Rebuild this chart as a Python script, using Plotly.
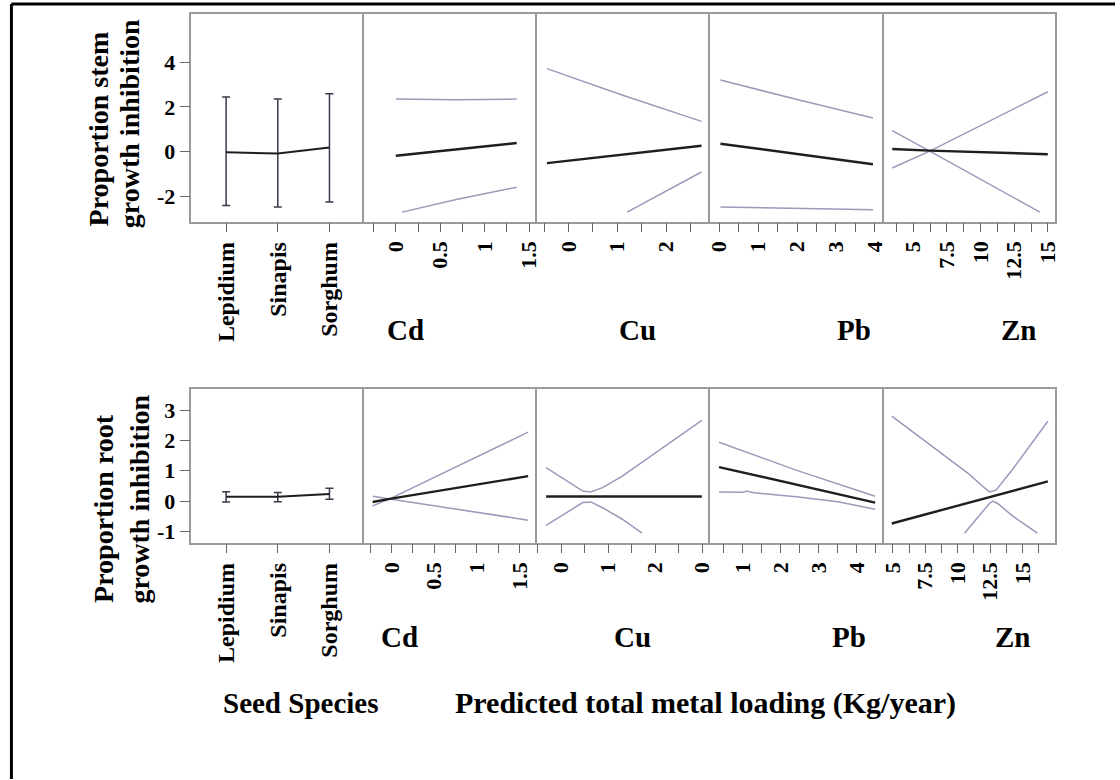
import plotly.graph_objects as go

W, H = 1120, 780

# ---------------- data ----------------
species = ["Lepidium", "Sinapis", "Sorghum"]
stem_mean = [-0.03, -0.09, 0.18]
stem_upper = [2.44, 2.36, 2.59]
stem_lower = [-2.42, -2.49, -2.26]
root_mean = [0.14, 0.14, 0.23]
root_upper = [0.31, 0.28, 0.42]
root_lower = [-0.03, -0.02, 0.06]

# stem growth inhibition profiles (prediction + confidence curves)
stem_cd_x = [0.0, 0.68, 1.36]
stem_cd_pred = [-0.19, 0.10, 0.38]
stem_cd_hi = [2.36, 2.32, 2.35]
stem_cd_lo_x = [0.07, 0.68, 1.36]
stem_cd_lo = [-2.72, -2.15, -1.60]

stem_cu_x = [-0.44, 1.14, 2.72]
stem_cu_pred = [-0.52, -0.13, 0.26]
stem_cu_hi = [3.72, 2.50, 1.35]
stem_cu_lo_x = [1.20, 2.72]
stem_cu_lo = [-2.72, -0.92]

stem_pb_x = [0.03, 2.0, 3.95]
stem_pb_pred = [0.35, -0.11, -0.57]
stem_pb_hi = [3.21, 2.33, 1.50]
stem_pb_lo = [-2.49, -2.55, -2.61]

stem_zn_x = [3.43, 6.22, 15.0]
stem_zn_pred = [0.11, 0.04, -0.12]
stem_zn_a = [-0.74, 0.02, 2.68]
stem_zn_b_x = [3.43, 6.22, 14.41]
stem_zn_b = [0.94, 0.02, -2.72]

# root growth inhibition profiles
root_cd_x = [-0.22, -0.02, 1.60]
root_cd_pred = [-0.03, 0.07, 0.82]
root_cd_a = [-0.16, 0.07, 2.27]
root_cd_b = [0.16, 0.07, -0.63]

root_cu_x = [-0.32, 2.99]
root_cu_pred = [0.15, 0.15]
root_cu_hi_x = [-0.32, 0.11, 0.46, 0.63, 0.88, 1.30, 2.99]
root_cu_hi = [1.10, 0.66, 0.33, 0.30, 0.44, 0.82, 2.66]
root_cu_lo_x = [-0.32, 0.11, 0.46, 0.63, 0.88, 1.30, 1.72]
root_cu_lo = [-0.80, -0.38, -0.05, -0.03, -0.22, -0.60, -1.06]

root_pb_x = [0.37, 2.4, 4.48]
root_pb_pred = [1.12, 0.54, -0.05]
root_pb_hi = [1.94, 1.02, 0.16]
root_pb_lo_x = [0.37, 1.0, 1.1, 1.25, 2.4, 3.5, 4.48]
root_pb_lo = [0.30, 0.29, 0.33, 0.28, 0.14, -0.02, -0.27]

root_zn_x = [4.92, 16.96]
root_zn_pred = [-0.74, 0.65]
root_zn_hi_x = [4.92, 8.37, 10.91, 12.06, 12.45, 12.96, 14.23, 16.96]
root_zn_hi = [2.80, 1.70, 0.88, 0.44, 0.30, 0.36, 1.04, 2.63]
root_zn_lo_x = [10.53, 11.68, 12.45, 12.71, 13.09, 14.23, 16.15]
root_zn_lo = [-1.06, -0.49, -0.08, 0.00, -0.08, -0.49, -1.06]

metals = ["Cd", "Cu", "Pb", "Zn"]

# axis ticks
cd_ticks = [0, 0.5, 1, 1.5]
cd_minor = [-0.25, 0.25, 0.75, 1.25]
cu_ticks_top = [0, 1, 2]
cu_ticks_bot = [0, 1, 2, 3]
cu_text_bot = ["0", "1", "2", "0"]
cu_minor = [-0.5, 0.5, 1.5, 2.5]
pb_ticks_top = [0, 1, 2, 3, 4]
pb_ticks_bot = [1, 2, 3, 4]
pb_minor = [0.5, 1.5, 2.5, 3.5, 4.5]
zn_ticks = [5, 7.5, 10, 12.5, 15]
zn_minor = [3.75, 6.25, 8.75, 11.25, 13.75, 16.25]
stem_yticks = [-2, 0, 2, 4]
root_yticks = [-1, 0, 1, 2, 3]

# ---------------- styling / layout ----------------
FONT = "Liberation Serif"
PRED = "#1e1e1e"
BAND = "#9a9abb"
FRAME = "#9a9a9a"

edges = [189, 363, 537, 712, 887, 1060]
rows_px = [(14, 222), (389.3, 543.3)]

def fx(p):
    return p / W

def fy(p):
    return 1 - p / H

fig = go.Figure()

def ax_name(k, kind):
    return kind if k == 1 else f"{kind}{k}"

def add_line(k, x, y, color, width):
    fig.add_trace(go.Scatter(
        x=x, y=y, mode="lines", line=dict(color=color, width=width),
        xaxis=ax_name(k, "x"), yaxis=ax_name(k, "y"),
        hoverinfo="skip", showlegend=False, cliponaxis=True))

def add_species(k, mean, upper, lower):
    cats = list(range(len(species)))
    fig.add_trace(go.Scatter(
        x=cats, y=mean, mode="lines",
        line=dict(color=PRED, width=2),
        error_y=dict(type="data", symmetric=False,
                     array=[u - m for u, m in zip(upper, mean)],
                     arrayminus=[m - l for m, l in zip(mean, lower)],
                     color="#3a3a4a", thickness=1.5, width=4),
        xaxis=ax_name(k, "x"), yaxis=ax_name(k, "y"),
        hoverinfo="skip", showlegend=False))

# top row: stem
add_species(1, stem_mean, stem_upper, stem_lower)
add_line(2, stem_cd_x, stem_cd_hi, BAND, 1.5)
add_line(2, stem_cd_lo_x, stem_cd_lo, BAND, 1.5)
add_line(2, stem_cd_x, stem_cd_pred, PRED, 2.4)
add_line(3, stem_cu_x, stem_cu_hi, BAND, 1.5)
add_line(3, stem_cu_lo_x, stem_cu_lo, BAND, 1.5)
add_line(3, stem_cu_x, stem_cu_pred, PRED, 2.4)
add_line(4, stem_pb_x, stem_pb_hi, BAND, 1.5)
add_line(4, stem_pb_x, stem_pb_lo, BAND, 1.5)
add_line(4, stem_pb_x, stem_pb_pred, PRED, 2.4)
add_line(5, stem_zn_x, stem_zn_a, BAND, 1.5)
add_line(5, stem_zn_b_x, stem_zn_b, BAND, 1.5)
add_line(5, stem_zn_x, stem_zn_pred, PRED, 2.4)

# bottom row: root
add_species(6, root_mean, root_upper, root_lower)
add_line(7, root_cd_x, root_cd_a, BAND, 1.5)
add_line(7, root_cd_x, root_cd_b, BAND, 1.5)
add_line(7, root_cd_x, root_cd_pred, PRED, 2.4)
add_line(8, root_cu_hi_x, root_cu_hi, BAND, 1.5)
add_line(8, root_cu_lo_x, root_cu_lo, BAND, 1.5)
add_line(8, root_cu_x, root_cu_pred, PRED, 2.4)
add_line(9, root_pb_x, root_pb_hi, BAND, 1.5)
add_line(9, root_pb_lo_x, root_pb_lo, BAND, 1.5)
add_line(9, root_pb_x, root_pb_pred, PRED, 2.4)
add_line(10, root_zn_hi_x, root_zn_hi, BAND, 1.5)
add_line(10, root_zn_lo_x, root_zn_lo, BAND, 1.5)
add_line(10, root_zn_x, root_zn_pred, PRED, 2.4)

tickfont = dict(family=FONT, size=22, color="black", weight="bold")
catfont = dict(family=FONT, size=24, color="black", weight="bold")

x_specs = [
    # top row
    dict(range=[-0.67, 2.67], tickvals=[0, 1, 2], ticktext=species, font=catfont, minor=None),
    dict(range=[-0.357, 1.585], tickvals=cd_ticks, ticktext=[f"{v:g}" for v in cd_ticks], minor=cd_minor),
    dict(range=[-0.65, 2.90], tickvals=cu_ticks_top, ticktext=[f"{v:g}" for v in cu_ticks_top], minor=cu_minor),
    dict(range=[-0.23, 4.23], tickvals=pb_ticks_top, ticktext=[f"{v:g}" for v in pb_ticks_top], minor=pb_minor),
    dict(range=[2.81, 15.57], tickvals=zn_ticks, ticktext=[f"{v:g}" for v in zn_ticks], minor=zn_minor),
    # bottom row
    dict(range=[-0.67, 2.67], tickvals=[0, 1, 2], ticktext=species, font=catfont, minor=None),
    dict(range=[-0.32, 1.70], tickvals=cd_ticks, ticktext=[f"{v:g}" for v in cd_ticks], minor=cd_minor),
    dict(range=[-0.52, 3.17], tickvals=cu_ticks_bot, ticktext=cu_text_bot, minor=cu_minor),
    dict(range=[0.14, 4.71], tickvals=pb_ticks_bot, ticktext=[f"{v:g}" for v in pb_ticks_bot], minor=pb_minor),
    dict(range=[4.31, 17.55], tickvals=zn_ticks, ticktext=[f"{v:g}" for v in zn_ticks], minor=zn_minor),
]

y_ranges = [[-3.15, 6.17], [-1.37, 3.70]]
y_ticks = [stem_yticks, root_yticks]

layout = dict(
    width=W, height=H, margin=dict(l=0, r=0, t=0, b=0),
    paper_bgcolor="white", plot_bgcolor="white", showlegend=False,
)

for k in range(1, 11):
    row = 0 if k <= 5 else 1
    col = (k - 1) % 5
    spec = x_specs[k - 1]
    xa = dict(
        domain=[fx(edges[col]), fx(edges[col + 1])],
        range=spec["range"], anchor=ax_name(k, "y"),
        tickmode="array", tickvals=spec["tickvals"], ticktext=spec["ticktext"],
        tickangle=-90, tickfont=spec.get("font", tickfont),
        ticks="outside", ticklen=9, tickwidth=1.3, tickcolor="#666",
        showline=True, mirror=True, linecolor=FRAME, linewidth=1.5,
        showgrid=False, zeroline=False, fixedrange=True,
    )
    if spec["minor"]:
        xa["minor"] = dict(tickmode="array", tickvals=spec["minor"], ticks="outside",
                           ticklen=9, tickwidth=1.3, tickcolor="#666", showgrid=False)
    layout[ax_name(k, "xaxis")] = xa

    top, bot = rows_px[row]
    # one vertical frame line per panel edge: left line for every panel,
    # right line only on the last panel of the row
    ya = dict(
        domain=[fy(bot), fy(top)], range=y_ranges[row], anchor=ax_name(k, "x"),
        showline=True, mirror=(col == 4), linecolor=FRAME, linewidth=1.5,
        showgrid=False, zeroline=False, fixedrange=True,
    )
    if col == 0:
        ya.update(tickmode="array", tickvals=y_ticks[row],
                  ticktext=[f"{v:g}" for v in y_ticks[row]],
                  ticks="outside", ticklen=10, tickwidth=1.3, tickcolor="#666",
                  tickfont=tickfont)
    else:
        ya.update(showticklabels=False, ticks="")
    layout[ax_name(k, "yaxis")] = ya

fig.update_layout(**layout)

# ---------------- text ----------------
def note(text, x, y, size, angle=0, xanchor="center", yanchor="middle"):
    fig.add_annotation(
        text=text, x=fx(x), y=fy(y), xref="paper", yref="paper",
        showarrow=False, textangle=angle, xanchor=xanchor, yanchor=yanchor,
        font=dict(family=FONT, size=size, color="black", weight="bold"))

note("Proportion stem", 95, 229, 28, angle=-90, yanchor="bottom")
note("growth inhibition", 126, 230, 28, angle=-90, yanchor="bottom")
note("Proportion root", 101, 606, 28, angle=-90, yanchor="bottom")
note("growth inhibition", 137, 606, 28, angle=-90, yanchor="bottom")

top_label_x = [405, 639, 857, 1023]
bot_label_x = [399, 634, 852, 1017]
for m, xt, xb in zip(metals, top_label_x, bot_label_x):
    note(m, xt, 330, 29)
    note(m, xb, 638, 29)

note("Seed Species", 299, 704, 29)
note("Predicted total metal loading (Kg/year)", 707, 704, 30)

# outer frame (top and left edges)
fig.add_shape(type="line", xref="paper", yref="paper",
              x0=fx(7.5), x1=1, y0=fy(4), y1=fy(4), line=dict(color="black", width=3))
fig.add_shape(type="line", xref="paper", yref="paper",
              x0=fx(7.5), x1=fx(7.5), y0=fy(4), y1=0, line=dict(color="black", width=3))

fig.write_html("out.html")
